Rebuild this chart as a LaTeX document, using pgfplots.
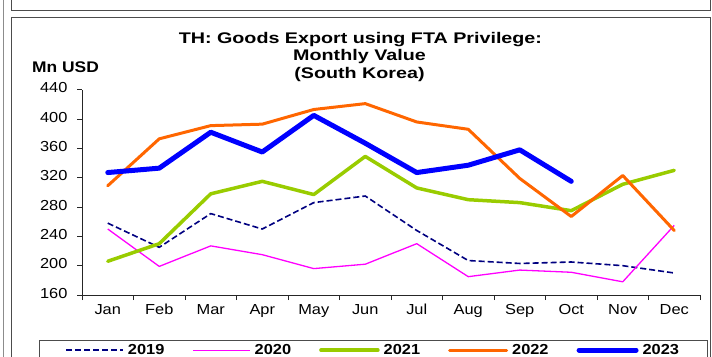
\documentclass[border=0pt]{standalone}
\usepackage{pgfplots}
\pgfplotsset{compat=1.18}
\usepackage{fontspec}
\setmainfont{Liberation Sans}[FakeStretch=1.13]
\newfontfamily\titlefont{Liberation Sans}[FakeStretch=1.28]
\definecolor{c19}{RGB}{0,0,128}
\definecolor{c20}{RGB}{255,0,255}
\definecolor{c21}{RGB}{153,204,0}
\definecolor{c22}{RGB}{255,102,0}
\definecolor{c23}{RGB}{0,0,255}
\begin{document}
\begin{tikzpicture}[x=1pt,y=1pt]
\useasboundingbox (0,0) rectangle (712,356);
\draw[black!45, line width=1pt] (3,-5) -- (3,361);
\draw[black!70, line width=1pt] (11.7,365) rectangle (710.5,345);
\draw[black!70, line width=1pt] (11.7,-20) rectangle (710.5,338);
\node[anchor=base, font=\titlefont\bfseries\fontsize{15.4}{17}\selectfont, inner sep=0] at (360.4,312.7) {TH: Goods Export using FTA Privilege:};
\node[anchor=base, font=\titlefont\bfseries\fontsize{15.4}{17}\selectfont, inner sep=0] at (359.5,295) {Monthly Value};
\node[anchor=base, font=\titlefont\bfseries\fontsize{15.4}{17}\selectfont, inner sep=0] at (359.5,277.5) {(South Korea)};
\node[anchor=base west, font=\bfseries\fontsize{15.4}{17}\selectfont, inner sep=0] at (32,283) {Mn USD};
\begin{axis}[
  at={(82pt,61pt)}, anchor=south west,
  scale only axis, width=618pt, height=205.3pt,
  xmin=0.5, xmax=12.5, ymin=160, ymax=440,
  ytick={160,200,...,440},
  xtick={0.5,1.5,...,12.5},
  x tick label as interval,
  xticklabels={Jan,Feb,Mar,Apr,May,Jun,Jul,Aug,Sep,Oct,Nov,Dec},
  typeset ticklabels with strut,
  axis x line*=bottom, axis y line*=left,
  axis line style={black!85, line width=0.8pt, -},
  tick align=outside, major tick length=5pt,
  tick style={black!85, line width=0.8pt},
  ticklabel style={font=\fontsize{14.5}{16}\selectfont},
  yticklabel style={xshift=-6pt},
  /pgf/number format/assume math mode=true,
  clip=false,
  legend columns=5,
  legend style={at={(-0.0696,-0.2192)}, anchor=north west, draw=black!70, line width=0.8pt,
    font=\bfseries\fontsize{14.5}{16}\selectfont, inner xsep=26pt, inner ysep=2pt,
    /tikz/every even column/.append style={column sep=26pt}},
  legend image code/.code={\draw[#1] (0pt,0pt) -- (57pt,0pt); \path (59pt,0pt);},
  every axis plot/.append style={line join=round},
]
\addplot[c19, line width=1.6pt, dash pattern=on 6pt off 3pt] coordinates {
 (1,258) (2,225) (3,271) (4,250) (5,286) (6,295) (7,248) (8,207) (9,203) (10,205) (11,200) (12,190)};
\addlegendentry{2019}
\addplot[c20, line width=1.3pt] coordinates {
 (1,250) (2,199) (3,227) (4,215) (5,196) (6,202) (7,230) (8,185) (9,194) (10,191) (11,178) (12,255)};
\addlegendentry{2020}
\addplot[c21, line width=3.5pt, line cap=round] coordinates {
 (1,206) (2,230) (3,298) (4,315) (5,297) (6,349) (7,306) (8,290) (9,286) (10,275) (11,311) (12,330)};
\addlegendentry{2021}
\addplot[c22, line width=3pt, line cap=round] coordinates {
 (1,309) (2,373) (3,391) (4,393) (5,413) (6,421) (7,396) (8,386) (9,319) (10,267) (11,323) (12,248)};
\addlegendentry{2022}
\addplot[c23, line width=5pt, line cap=round] coordinates {
 (1,327) (2,333) (3,382) (4,355) (5,405) (6,367) (7,327) (8,337) (9,358) (10,315)};
\addlegendentry{2023}
\end{axis}
\end{tikzpicture}
\end{document}
